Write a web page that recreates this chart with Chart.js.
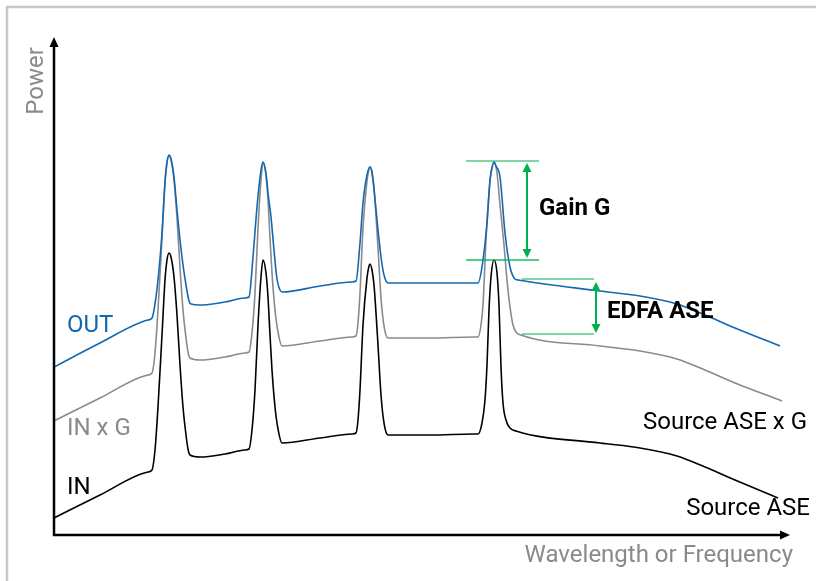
<!DOCTYPE html>
<html>
<head>
<meta charset="utf-8">
<script src="https://cdn.jsdelivr.net/npm/chart.js@4.4.1/dist/chart.umd.min.js"></script>
<style>
  body { margin: 0; background: #fff; }
  canvas { display: block; }
</style>
</head>
<body>
<canvas id="myChart" width="816" height="581"></canvas>
<script>
// wavelength (arbitrary units) and power (arbitrary units)
var inWl = [0, 46, 94, 98, 101, 104, 108, 111, 113, 115, 117, 120, 123, 126, 129, 132, 134, 136,
  146, 171, 191, 195, 198, 201, 204, 207, 209, 212, 214, 216, 218, 221, 224, 228,
  266, 298, 302, 304, 306, 309, 313, 315, 316, 318, 320, 322, 324, 327, 330, 334,
  376, 420, 424, 428, 431, 433, 435, 437, 440, 443, 445, 447, 449, 452, 456, 462,
  546, 586, 623, 651, 681, 724]
var inPower = [17, 40, 63, 65, 85, 128, 200, 255, 275, 282, 278, 258, 220, 170, 128, 100, 86, 80,
  78, 81, 85, 86, 105, 145, 210, 258, 275, 262, 238, 200, 165, 128, 106, 92,
  97, 101, 102, 115, 145, 210, 257, 269, 271, 265, 250, 222, 190, 140, 112, 100,
  100, 101, 101, 112, 135, 170, 225, 258, 275, 262, 230, 168, 132, 115, 107, 104,
  92, 87, 79, 68, 55, 37]

var gainWl = [0, 46, 94, 98, 101, 104, 108, 111, 113, 115, 117, 120, 123, 126, 129, 132, 134, 136,
  146, 171, 191, 195, 198, 201, 204, 207, 209, 212, 214, 216, 218, 221, 224, 228,
  266, 298, 302, 304, 306, 309, 313, 315, 316, 318, 320, 322, 324, 327, 330, 334,
  376, 420, 424, 427, 429, 432, 435, 437, 440, 443, 446, 450, 453, 456, 459, 462, 467,
  546, 586, 623, 651, 681, 728]
var gainPower = [114, 137, 160, 162, 182, 225, 297, 352, 372, 379, 375, 355, 317, 267, 225, 197, 183, 177,
  175, 178, 182, 183, 202, 242, 307, 355, 372, 359, 335, 297, 262, 225, 203, 189,
  194, 198, 199, 212, 242, 307, 354, 366, 368, 362, 347, 319, 287, 237, 209, 197,
  197, 198, 198, 210, 230, 295, 342, 362, 373, 362, 330, 290, 255, 228, 210, 203, 200,
  189, 184, 176, 165, 152, 134]

var outWl = [0, 46, 94, 98, 102, 105, 108, 111, 113, 115, 117, 120, 123, 126, 129, 132, 135, 137,
  146, 171, 191, 195, 199, 203, 207, 209, 212, 214, 217, 220, 223, 226, 228,
  266, 298, 302, 306, 309, 313, 316, 318, 321, 324, 327, 330, 334,
  376, 420, 424, 428, 433, 436, 438, 440, 442, 446, 451, 456, 461, 464,
  546, 586, 623, 651, 681, 726]
var outPower = [168, 192, 215, 217, 238, 265, 302, 353, 373, 380, 376, 358, 325, 295, 270, 250, 234, 231,
  230, 233, 237, 238, 278, 328, 365, 373, 362, 342, 318, 285, 256, 245, 243,
  249, 253, 254, 292, 332, 360, 368, 363, 336, 305, 278, 260, 252,
  252, 252, 252, 268, 312, 355, 367, 373, 369, 358, 302, 268, 256, 255,
  244, 239, 231, 220, 207, 189]

// markers for gain and EDFA ASE
var gainLevels = [374, 275]
var aseLevels = [256, 201]

var blue = '#1268b0'
var grey = '#8a8a8a'
var green = '#00b050'

function pts(xs, ys) {
  return xs.map(function (x, i) { return { x: x, y: ys[i] } })
}

function arrowHead(c, x, y, dx, dy, len, half) {
  c.beginPath()
  c.moveTo(x, y)
  c.lineTo(x - dx * len - dy * half, y - dy * len + dx * half)
  c.lineTo(x - dx * len + dy * half, y - dy * len - dx * half)
  c.closePath()
  c.fill()
}

function hline(c, y, x1, x2, col, w) {
  c.strokeStyle = col
  c.lineWidth = w
  c.beginPath()
  c.moveTo(x1, y)
  c.lineTo(x2, y)
  c.stroke()
}

function doubleArrow(c, x, y1, y2) {
  c.strokeStyle = green
  c.fillStyle = green
  c.lineWidth = 2
  c.beginPath()
  c.moveTo(x, y1 + 6)
  c.lineTo(x, y2 - 6)
  c.stroke()
  arrowHead(c, x, y1, 0, -1, 9, 4.5)
  arrowHead(c, x, y2, 0, 1, 9, 4.5)
}

const diagram = {
  id: 'diagram',
  beforeDraw(chart) {
    const c = chart.ctx
    c.save()
    c.strokeStyle = '#c8c8c8'
    c.lineWidth = 2.5
    c.beginPath()
    c.moveTo(7, 600)
    c.lineTo(7, 7)
    c.lineTo(830, 7)
    c.stroke()
    c.restore()
  },
  afterDraw(chart) {
    const c = chart.ctx
    const a = chart.chartArea
    const sx = chart.scales.x
    const sy = chart.scales.y
    c.save()

    // axes
    c.strokeStyle = '#000'
    c.fillStyle = '#000'
    c.lineWidth = 2.5
    c.beginPath()
    c.moveTo(a.left, a.top + 6)
    c.lineTo(a.left, a.bottom)
    c.lineTo(a.right - 6, a.bottom)
    c.stroke()
    arrowHead(c, a.left, a.top, 0, -1, 10, 4.5)
    arrowHead(c, a.right, a.bottom, 1, 0, 10, 4.5)

    // gain G marker
    var gTop = sy.getPixelForValue(gainLevels[0])
    var gBot = sy.getPixelForValue(gainLevels[1])
    hline(c, gTop, sx.getPixelForValue(412), sx.getPixelForValue(485), 'rgba(0,176,80,0.5)', 2)
    hline(c, gBot, sx.getPixelForValue(412), sx.getPixelForValue(485), 'rgba(0,176,80,0.9)', 1.5)
    doubleArrow(c, sx.getPixelForValue(473), gTop + 2, gBot - 2)

    // EDFA ASE marker
    var aTop = sy.getPixelForValue(aseLevels[0])
    var aBot = sy.getPixelForValue(aseLevels[1])
    hline(c, aTop, sx.getPixelForValue(468), sx.getPixelForValue(540), 'rgba(0,176,80,0.5)', 2)
    hline(c, aBot, sx.getPixelForValue(468), sx.getPixelForValue(540), 'rgba(0,176,80,0.5)', 2)
    doubleArrow(c, sx.getPixelForValue(542), aTop + 3, aBot - 1)

    // texts
    c.textBaseline = 'alphabetic'
    c.font = '24px Roboto'
    c.textAlign = 'left'
    c.fillStyle = blue
    c.fillText('OUT', 67, 332)
    c.fillStyle = grey
    c.fillText('IN x G', 67, 435)
    c.fillStyle = '#000'
    c.fillText('IN', 67, 494)
    c.textAlign = 'right'
    c.fillText('Source ASE x G', 807, 429)
    c.fillText('Source ASE', 810, 515)
    c.fillStyle = grey
    c.fillText('Wavelength or Frequency', 793, 562)

    c.save()
    c.translate(43, 81)
    c.rotate(-Math.PI / 2)
    c.textAlign = 'center'
    c.fillText('Power', 0, 0)
    c.restore()

    c.textAlign = 'left'
    c.fillStyle = '#000'
    c.font = 'bold 24px Roboto'
    c.fillText('Gain G', 539, 215)
    c.fillText('EDFA ASE', 607, 318)

    c.restore()
  }
}

const ctx = document.getElementById('myChart')

new Chart(ctx, {
  type: 'line',
  data: {
    datasets: [
      { label: 'OUT', data: pts(outWl, outPower), borderColor: blue },
      { label: 'IN x G', data: pts(gainWl, gainPower), borderColor: grey },
      { label: 'IN', data: pts(inWl, inPower), borderColor: '#000' }
    ]
  },
  options: {
    responsive: false,
    animation: false,
    layout: { padding: { left: 54, right: 26, top: 37, bottom: 46 } },
    scales: {
      x: { type: 'linear', min: 0, max: 736, display: false },
      y: { min: 0, max: 498, display: false }
    },
    elements: {
      point: { radius: 0 },
      line: { borderWidth: 1.6, cubicInterpolationMode: 'monotone', fill: false }
    },
    plugins: {
      legend: { display: false },
      tooltip: { enabled: false }
    }
  },
  plugins: [diagram]
})
</script>
</body>
</html>
